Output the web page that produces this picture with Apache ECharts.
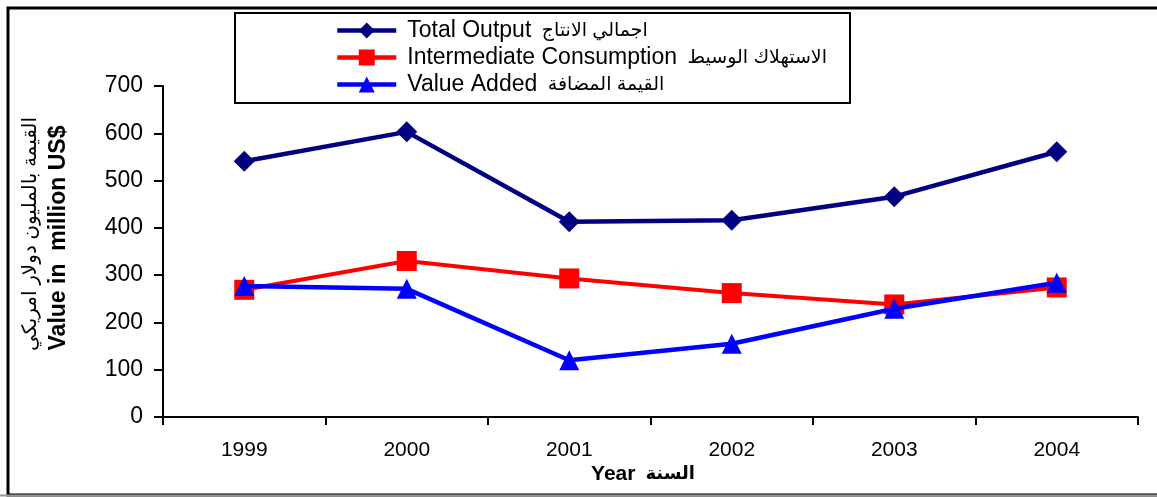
<!DOCTYPE html>
<html>
<head>
<meta charset="utf-8">
<script src="https://cdn.jsdelivr.net/npm/echarts@6/dist/echarts.min.js"></script>
<style>
  html, body { margin: 0; padding: 0; background: #fff; }
  #chart { width: 1157px; height: 497px; }
</style>
</head>
<body>
<div id="chart"></div>
<script>
const years = ['1999', '2000', '2001', '2002', '2003', '2004']
const totalOutput = [541, 603, 413, 416, 466, 561]
const intermediate = [269, 330, 293, 262, 238, 274]
const valueAdded = [277, 271, 120, 155, 229, 284]
const yTicks = [0, 100, 200, 300, 400, 500, 600, 700]

const seriesNames = [
  'Total Output  اجمالي الانتاج',
  'Intermediate Consumption  الاستهلاك الوسيط',
  'Value Added  القيمة المضافة',
]

const font = "'Liberation Sans', 'DejaVu Sans', Arial, sans-serif"

const chart = echarts.init(document.getElementById('chart'))

chart.setOption({
  animation: false,
  backgroundColor: '#fff',
  textStyle: { fontFamily: font },
  grid: {
    left: 163,
    right: 19,
    top: 86,
    bottom: 80,
  },
  legend: {
    orient: 'vertical',
    left: 330,
    top: 14,
    itemWidth: 59,
    itemHeight: 20,
    itemGap: 4,
    lineStyle: { width: 4.5 },
    formatter: name => {
      const parts = name.split('  ')
      return '{en|' + parts[0] + '}{ar|  ' + parts[1] + '}'
    },
    textStyle: {
      color: '#000',
      fontFamily: font,
      padding: [0, 0, 0, 6],
      rich: {
        en: { fontSize: 23, lineHeight: 23, fontFamily: font, color: '#000' },
        ar: { fontSize: 19, lineHeight: 23, fontFamily: font, color: '#000' },
      },
    },
    data: seriesNames,
  },
  graphic: [
    // outer frame
    {
      type: 'rect',
      shape: { x: 8, y: 8, width: 1160, height: 487 },
      style: { fill: 'none', stroke: '#000', lineWidth: 3 },
      silent: true,
    },
    {
      type: 'line',
      shape: { x1: 0, y1: 495.5, x2: 1157, y2: 495.5 },
      style: { stroke: '#999', lineWidth: 2 },
      silent: true,
    },
    // legend box
    {
      type: 'rect',
      shape: { x: 235, y: 13, width: 615, height: 90 },
      style: { fill: 'none', stroke: '#000', lineWidth: 2 },
      silent: true,
    },
    // y axis titles
    {
      type: 'text',
      x: 30,
      y: 234,
      rotation: Math.PI / 2,
      style: {
        text: 'القيمة بالمليون دولار امريكي',
        font: '20px ' + font,
        fill: '#000',
        align: 'center',
        verticalAlign: 'middle',
      },
    },
    {
      type: 'text',
      x: 59,
      y: 238,
      rotation: Math.PI / 2,
      style: {
        text: 'Value in  million US$',
        font: 'bold 23px ' + font,
        fill: '#000',
        align: 'center',
        verticalAlign: 'middle',
      },
    },
    // x axis title
    {
      type: 'text',
      x: 643,
      y: 474,
      style: {
        text: '{en|Year}{ar|  السنة}',
        fill: '#000',
        align: 'center',
        verticalAlign: 'middle',
        rich: {
          en: { font: 'bold 21px ' + font, fill: '#000' },
          ar: { font: 'bold 18px ' + font, fill: '#000' },
        },
      },
    },
  ],
  xAxis: {
    type: 'category',
    data: years,
    boundaryGap: true,
    axisLine: { lineStyle: { color: '#000', width: 2 } },
    axisTick: { show: true, length: 8, lineStyle: { color: '#000', width: 2 } },
    axisLabel: { color: '#000', fontSize: 21, margin: 23, fontFamily: font },
    splitLine: { show: false },
  },
  yAxis: {
    type: 'value',
    min: yTicks[0],
    max: yTicks[yTicks.length - 1],
    interval: 100,
    axisLine: { show: true, lineStyle: { color: '#000', width: 2 } },
    axisTick: { show: true, length: 9, lineStyle: { color: '#000', width: 2 } },
    axisLabel: { color: '#000', fontSize: 23, margin: 20, fontFamily: font },
    splitLine: { show: false },
  },
  series: [
    {
      name: seriesNames[0],
      type: 'line',
      data: totalOutput,
      symbol: 'diamond',
      symbolSize: 21,
      lineStyle: { color: '#000080', width: 4.5 },
      itemStyle: { color: '#000080' },
      z: 3,
    },
    {
      name: seriesNames[1],
      type: 'line',
      data: intermediate,
      symbol: 'rect',
      symbolSize: 20,
      lineStyle: { color: '#ff0000', width: 4 },
      itemStyle: { color: '#ff0000' },
      z: 2,
    },
    {
      name: seriesNames[2],
      type: 'line',
      data: valueAdded,
      symbol: 'triangle',
      symbolSize: [20, 20],
      lineStyle: { color: '#0000ff', width: 4.5 },
      itemStyle: { color: '#0000ff' },
      z: 4,
    },
  ],
})
</script>
</body>
</html>
